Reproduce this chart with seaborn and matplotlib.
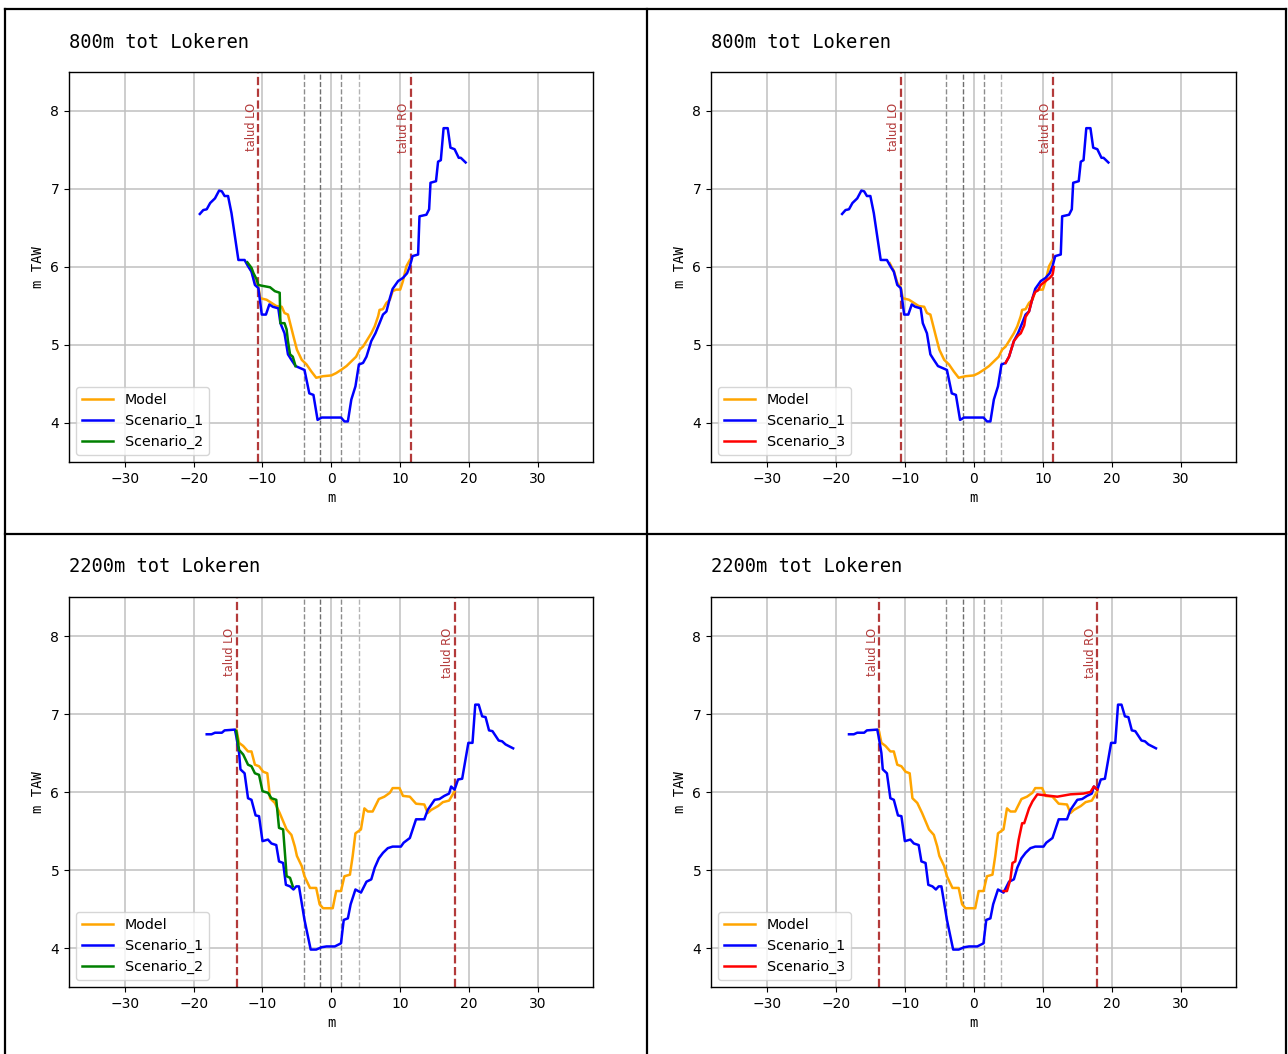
import numpy as np
import pandas as pd
import matplotlib
matplotlib.use("Agg")
import matplotlib.pyplot as plt
from matplotlib.lines import Line2D
import seaborn as sns

# ---------------- data ----------------
titles = ["800m tot Lokeren", "800m tot Lokeren", "2200m tot Lokeren", "2200m tot Lokeren"]
xticks = [-30, -20, -10, 0, 10, 20, 30]
yticks = [4, 5, 6, 7, 8]

# 800m profiles
s1_800_x = [-19.1,-18.6,-18.1,-17.6,-16.9,-16.3,-15.9,-15.5,-15.0,-14.5,-14.0,-13.5,-12.6,-12.1,-11.6,-11.1,-10.6,-10.1,-9.5,-9.0,-8.5,-7.7,-7.4,-6.8,-6.3,-5.8,-5.2,-3.9,-3.2,-2.6,-2.0,-1.4,1.4,1.9,2.4,2.9,3.5,4.0,4.6,5.1,5.8,6.4,7.0,7.5,8.0,8.5,8.9,9.7,10.4,11.0,11.4,11.8,12.6,12.8,13.8,14.2,14.4,15.2,15.5,15.9,16.3,16.9,17.3,17.9,18.5,18.8,19.5]
s1_800_y = [6.68,6.73,6.74,6.82,6.88,6.98,6.97,6.91,6.91,6.69,6.39,6.09,6.09,6.01,5.94,5.77,5.73,5.39,5.39,5.52,5.49,5.47,5.28,5.15,4.88,4.81,4.73,4.68,4.38,4.36,4.04,4.07,4.07,4.02,4.02,4.30,4.47,4.75,4.77,4.85,5.05,5.15,5.28,5.39,5.43,5.60,5.72,5.82,5.86,5.92,6.01,6.14,6.16,6.65,6.67,6.74,7.08,7.10,7.35,7.37,7.78,7.78,7.53,7.51,7.40,7.40,7.34]

model_800_x = [-12.2,-11.6,-11.1,-10.6,-10.3,-9.4,-8.7,-8.0,-7.2,-6.8,-6.3,-5.9,-5.5,-5.0,-4.3,-3.6,-2.9,-2.2,-1.2,0.0,0.7,1.4,2.2,2.9,3.6,4.1,4.6,5.1,5.8,6.3,6.8,7.0,7.5,8.0,8.5,8.9,9.4,10.0,10.4,10.9,11.4]
model_800_y = [6.05,5.95,5.80,5.74,5.60,5.58,5.54,5.50,5.49,5.41,5.39,5.25,5.11,4.94,4.81,4.75,4.66,4.58,4.60,4.61,4.64,4.68,4.73,4.79,4.85,4.94,4.98,5.05,5.15,5.24,5.37,5.45,5.46,5.54,5.58,5.69,5.71,5.71,5.82,6.01,6.09]

s2_800_x = [-12.2,-11.6,-11.3,-10.9,-10.6,-10.1,-8.9,-8.2,-7.5,-7.4,-6.8,-6.5,-6.3,-6.0,-5.6,-5.2]
s2_800_y = [6.06,5.99,5.92,5.85,5.77,5.76,5.74,5.69,5.67,5.28,5.28,5.20,5.05,4.88,4.85,4.73]

s3_800_x = [4.6,5.1,5.8,6.4,6.8,7.3,7.5,8.0,8.5,8.9,9.3,9.7,10.4,11.0,11.4,11.6]
s3_800_y = [4.77,4.85,5.05,5.12,5.15,5.25,5.36,5.43,5.60,5.68,5.70,5.77,5.82,5.86,5.90,6.00]

# 2200m profiles
s1_2200_x = [-18.1,-17.4,-16.9,-15.9,-15.5,-14.0,-13.8,-13.4,-13.2,-12.6,-12.1,-11.6,-11.0,-10.5,-10.0,-9.2,-8.7,-8.0,-7.6,-7.0,-6.6,-6.0,-5.5,-5.1,-4.7,-3.9,-3.0,-2.2,-1.4,-0.7,0.5,1.4,1.8,2.4,2.8,3.5,4.3,5.1,5.8,6.3,6.9,7.5,8.2,8.9,10.1,10.5,11.4,12.3,13.5,14.0,15.0,15.7,16.4,17.1,17.4,17.9,18.4,19.0,19.9,20.5,20.9,21.4,21.9,22.4,22.9,23.4,24.3,24.8,25.3,26.4]
s1_2200_y = [6.74,6.74,6.76,6.76,6.79,6.80,6.71,6.50,6.29,6.24,5.92,5.90,5.70,5.69,5.37,5.39,5.34,5.32,5.11,5.09,4.81,4.79,4.75,4.79,4.79,4.36,3.98,3.98,4.01,4.02,4.02,4.06,4.36,4.38,4.56,4.75,4.71,4.85,4.88,5.03,5.15,5.22,5.28,5.30,5.30,5.35,5.41,5.65,5.65,5.77,5.90,5.91,5.95,5.98,6.07,6.03,6.16,6.17,6.63,6.63,7.12,7.12,6.97,6.96,6.79,6.78,6.66,6.65,6.61,6.56]

model_2200_x = [-13.8,-13.4,-12.8,-12.1,-11.6,-11.1,-10.5,-9.9,-9.3,-8.9,-8.2,-7.5,-6.5,-5.8,-5.3,-5.0,-4.3,-3.9,-3.1,-2.2,-1.7,-1.2,0.2,0.7,1.4,1.9,2.7,3.1,3.5,4.3,4.8,5.3,6.0,6.9,7.7,8.5,8.9,9.9,10.4,11.4,12.3,13.5,14.0,14.5,15.5,16.2,17.1,17.9]
model_2200_y = [6.80,6.63,6.59,6.52,6.52,6.35,6.33,6.26,6.24,5.92,5.86,5.73,5.52,5.45,5.30,5.18,5.05,4.92,4.77,4.77,4.56,4.51,4.51,4.73,4.73,4.92,4.94,5.18,5.47,5.52,5.79,5.75,5.75,5.91,5.94,5.99,6.05,6.05,5.95,5.94,5.85,5.84,5.73,5.77,5.82,5.87,5.89,6.01]

s2_2200_x = [-13.8,-13.4,-12.8,-12.1,-11.6,-11.1,-10.5,-10.0,-9.2,-8.7,-8.0,-7.6,-7.0,-6.6,-6.5,-6.0,-5.6]
s2_2200_y = [6.78,6.54,6.48,6.35,6.33,6.24,6.22,6.01,5.99,5.92,5.90,5.54,5.52,5.05,4.92,4.90,4.79]

s3_2200_x = [4.3,4.8,5.3,5.6,6.0,6.5,7.0,7.3,8.0,8.5,9.2,10.1,12.1,14.0,15.9,16.9,17.4,17.9]
s3_2200_y = [4.73,4.73,4.88,5.09,5.11,5.39,5.60,5.60,5.79,5.88,5.97,5.96,5.94,5.97,5.98,6.00,6.07,6.03]

talud_800 = [-10.6, 11.5]
talud_2200 = [-13.7, 17.9]
axis_lines = [-4.0, -1.6, 1.4, 4.0]
axis_line_colors = ["#8c8c8c", "#6e6e6e", "#8c8c8c", "#b4b4b4"]

panels = [
    dict(title=titles[0], model=(model_800_x, model_800_y), s1=(s1_800_x, s1_800_y),
         s=(s2_800_x, s2_800_y), sname="Scenario_2", scol="green", talud=talud_800),
    dict(title=titles[1], model=(model_800_x, model_800_y), s1=(s1_800_x, s1_800_y),
         s=(s3_800_x, s3_800_y), sname="Scenario_3", scol="red", talud=talud_800),
    dict(title=titles[2], model=(model_2200_x, model_2200_y), s1=(s1_2200_x, s1_2200_y),
         s=(s2_2200_x, s2_2200_y), sname="Scenario_2", scol="green", talud=talud_2200),
    dict(title=titles[3], model=(model_2200_x, model_2200_y), s1=(s1_2200_x, s1_2200_y),
         s=(s3_2200_x, s3_2200_y), sname="Scenario_3", scol="red", talud=talud_2200),
]

# ---------------- figure ----------------
W, H = 1288, 1054
fig = plt.figure(figsize=(W / 100, H / 100), dpi=100)
fig.patch.set_facecolor("white")

# axes boxes in pixels: (left, top, right, bottom)
boxes = [(69, 72, 593, 462), (711, 72, 1236, 462), (69, 597, 593, 987), (711, 597, 1236, 987)]
talud_color = "#b33a3a"
mono = "DejaVu Sans Mono"
LW = 1.8

for p, (l, t, r, b) in zip(panels, boxes):
    ax = fig.add_axes([l / W, 1 - b / H, (r - l) / W, (b - t) / H])
    ax.set_facecolor("white")
    ax.grid(True, color="#c0c0c0", linewidth=1.1, zorder=0)
    ax.set_axisbelow(True)

    for xv, c in zip(axis_lines, axis_line_colors):
        ax.axvline(xv, color=c, linestyle="--", linewidth=1.0, zorder=1)
    for xv, lab in zip(p["talud"], ["talud LO", "talud RO"]):
        ax.axvline(xv, color=talud_color, linestyle="--", linewidth=1.6, zorder=1)
        ax.text(xv - 0.1, 8.1, lab, rotation=90, ha="right", va="top",
                color=talud_color, fontsize=8.3)

    sns.lineplot(x=p["model"][0], y=p["model"][1], color="orange", label="Model",
                 ax=ax, sort=False, estimator=None, linewidth=LW)
    sns.lineplot(x=p["s1"][0], y=p["s1"][1], color="blue", label="Scenario_1",
                 ax=ax, sort=False, estimator=None, linewidth=LW)
    sns.lineplot(x=p["s"][0], y=p["s"][1], color=p["scol"], label=p["sname"],
                 ax=ax, sort=False, estimator=None, linewidth=LW)

    ax.set_xlim(-38.1, 38.0)
    ax.set_ylim(3.5, 8.5)
    ax.set_xticks(xticks)
    ax.set_yticks(yticks)
    ax.tick_params(labelsize=10)
    ax.set_xlabel("m", fontsize=10, family=mono)
    ax.set_ylabel("m TAW", fontsize=10, family=mono)
    for s in ax.spines.values():
        s.set_color("black")
        s.set_linewidth(1.0)
    ax.legend(loc="lower left", fontsize=10.3, frameon=True, framealpha=0.8,
              handlelength=2.2)

    fig.text(l / W, 1 - (t - 30) / H, p["title"], ha="left", va="center",
             family=mono, fontsize=13.5)

# table-like borders
def fline(x0, y0, x1, y1):
    fig.add_artist(Line2D([x0 / W, x1 / W], [1 - y0 / H, 1 - y1 / H],
                          transform=fig.transFigure, color="black", linewidth=1.6))

fline(5, 8.5, 1286, 8.5)
fline(5, 8.5, 5, 1054)
fline(1286, 8.5, 1286, 1054)
fline(647, 8.5, 647, 1054)
fline(5, 533.5, 1286, 533.5)

fig.savefig("out.png", dpi=100, facecolor="white")
